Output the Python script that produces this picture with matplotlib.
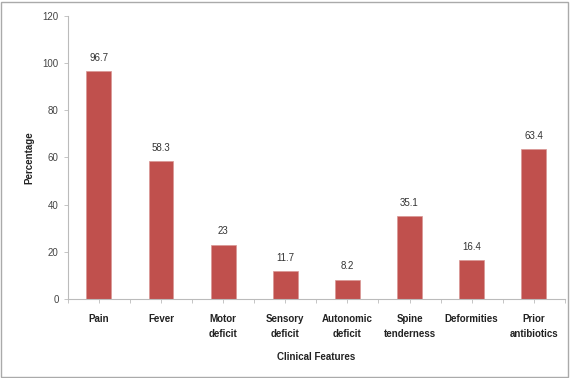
import matplotlib
matplotlib.use("Agg")
import matplotlib.pyplot as plt
from matplotlib.patches import Rectangle

features = ["Pain", "Fever", "Motor\ndeficit", "Sensory\ndeficit", "Autonomic\ndeficit",
            "Spine\ntenderness", "Deformities", "Prior\nantibiotics"]
percent = [96.7, 58.3, 23, 11.7, 8.2, 35.1, 16.4, 63.4]
value_labels = ["96.7", "58.3", "23", "11.7", "8.2", "35.1", "16.4", "63.4"]
y_ticks = [0, 20, 40, 60, 80, 100, 120]

plt.rcParams['font.family'] = ['Liberation Sans', 'DejaVu Sans']

fig = plt.figure(figsize=(5.7, 3.78), dpi=100)
ax = fig.add_axes([0.119, 0.209, 0.872, 0.749])

x = range(len(features))
bars = ax.bar(x, percent, width=0.4, color="#C0504D", edgecolor="#D99694", linewidth=0.5)

# werte ueber die balken schreiben
for b, lab in zip(bars, value_labels):
    ax.text(b.get_x() + b.get_width() / 2, b.get_height() + 3.5, lab,
            ha="center", va="bottom", fontsize=7, color="#333333")

ax.set_xlim(-0.5, len(features) - 0.5)
ax.set_ylim(0, 120)
ax.set_yticks(y_ticks)
ax.set_xticks(list(x))
ax.set_xticklabels(features, fontsize=7, color="#222222", fontweight="bold", linespacing=1.6)
ax.tick_params(axis="y", labelsize=7, colors="#444444", length=3, width=0.6, color="#bbbbbb")
ax.tick_params(axis="x", length=3, width=0.6, color="#bbbbbb", pad=8)
ax.set_xticks([i + 0.5 for i in range(-1, len(features))], minor=True)
ax.tick_params(axis="x", which="minor", length=3, width=0.6, color="#bbbbbb")

for s in ["top", "right"]:
    ax.spines[s].set_visible(False)
for s in ["left", "bottom"]:
    ax.spines[s].set_color("#bbbbbb")
    ax.spines[s].set_linewidth(0.8)

ax.set_ylabel("Percentage", fontsize=7, fontweight="bold", color="#222222", labelpad=6)
ax.set_xlabel("Clinical Features", fontsize=7, fontweight="bold", color="#222222", labelpad=9)

# rahmen um die ganze grafik
fig.patches.append(Rectangle((0.002, 0.003), 0.995, 0.993, transform=fig.transFigure,
                             fill=False, edgecolor="#aaaaaa", linewidth=1))

fig.savefig("out.png", dpi=100)
